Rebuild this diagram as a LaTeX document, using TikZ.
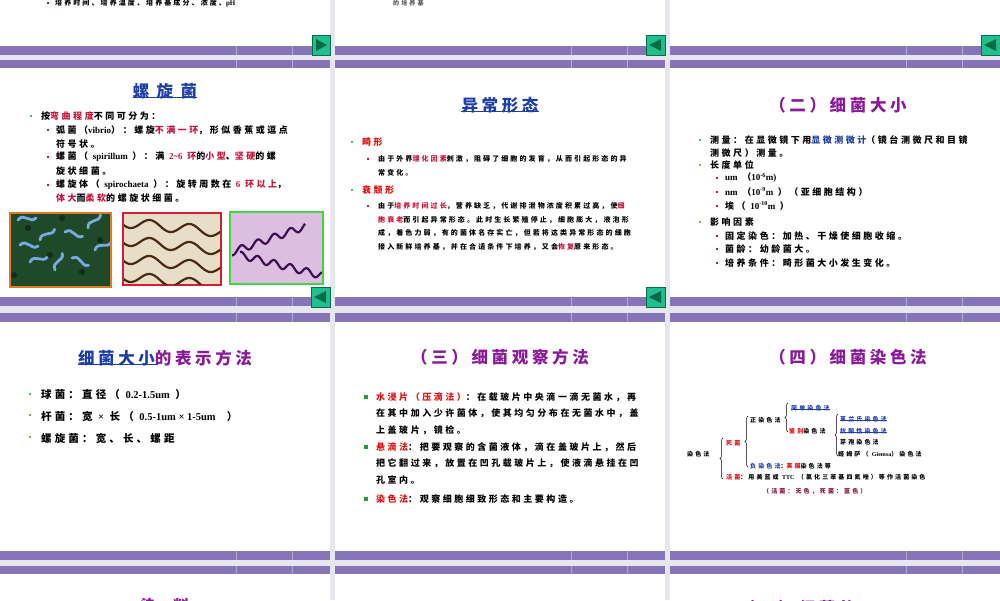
\documentclass[tikz,border=0pt]{standalone}
\usepackage{fontspec}
\setmainfont{Noto Sans CJK SC}
\newfontfamily\lat{Liberation Serif}
\usetikzlibrary{decorations.pathreplacing}
\definecolor{barc}{HTML}{8574B8}
\definecolor{barl}{HTML}{B3A8D6}
\definecolor{gapc}{HTML}{E7E5ED}
\definecolor{tblue}{HTML}{1F3FA8}
\definecolor{tpurp}{HTML}{8B1A9B}
\definecolor{bred}{HTML}{C8143C}
\definecolor{tred}{HTML}{E01010}
\definecolor{gbul}{HTML}{2E9B2E}
\definecolor{navc}{HTML}{1FBF8F}
\definecolor{navd}{HTML}{0B6B45}
\definecolor{maroon2}{HTML}{8A1040}
\definecolor{p1frame}{HTML}{E07A20}
\definecolor{p1bg}{HTML}{1E4A2A}
\definecolor{p1rod}{HTML}{78AAE1}
\definecolor{p1dot}{HTML}{0F2D19}
\definecolor{p2frame}{HTML}{D22030}
\definecolor{p2bg}{HTML}{E8DEC8}
\definecolor{p2rod}{HTML}{482A10}
\definecolor{p3frame}{HTML}{46D246}
\definecolor{p3bg}{HTML}{DCBEE1}
\definecolor{p3rod}{HTML}{3C1050}
\newcommand\R[1]{\textcolor{bred}{#1}}
\newcommand\B[1]{\textcolor{tblue}{#1}}
\tikzset{
 body/.style={anchor=west,inner sep=0pt,font=\bfseries\fontsize{9}{10}\selectfont\addfontfeatures{LetterSpace=28}},
 small/.style={anchor=west,inner sep=0pt,font=\bfseries\fontsize{7}{8}\selectfont\addfontfeatures{LetterSpace=30}},
 tree/.style={anchor=west,inner sep=0pt,font=\bfseries\fontsize{6}{7}\selectfont\addfontfeatures{LetterSpace=35}},
 big/.style={anchor=west,inner sep=0pt,font=\bfseries\fontsize{10.5}{12}\selectfont\addfontfeatures{LetterSpace=30}},
 title/.style={inner sep=0pt,font=\bfseries\fontsize{16.5}{18}\selectfont\addfontfeatures{LetterSpace=22}},
 gb/.style={fill=gbul,circle,inner sep=0pt,minimum size=2.2pt},
 rb/.style={fill=bred,inner sep=0pt,minimum size=2.4pt},
 gsq/.style={fill=gbul,inner sep=0pt,minimum size=3.2pt},
 brc/.style={decorate,decoration={brace,amplitude=3pt},line width=0.5pt},
}
\newcommand\bars[3]{% x, y top, y bottom
 \fill[barc] (#1,#2) rectangle ++(330,#3-#2);
 \draw[barl,line width=0.7pt] (#1+236,#2) -- (#1+236,#3) (#1+292,#2) -- (#1+292,#3);}
\newcommand\navR[2]{\fill[navc,draw=navd,line width=0.4pt] (#1,#2) rectangle ++(18,20);
 \fill[navd] (#1+4,#2+4) -- (#1+15,#2+10) -- (#1+4,#2+16) -- cycle;}
\newcommand\navL[2]{\fill[navc,draw=navd,line width=0.4pt] (#1,#2) rectangle ++(19,20);
 \fill[navd] (#1+15,#2+4) -- (#1+3,#2+10) -- (#1+15,#2+16) -- cycle;}
\begin{document}
\begin{tikzpicture}[x=1pt,y=-1pt]
\useasboundingbox (0,0) rectangle (1000,600);
\clip (0,0) rectangle (1000,600);
\fill[gapc] (0,0) rectangle (1000,600);
\foreach \c in {0,335,670}{
 \fill[white] (\c,0) rectangle ++(330,46);
 \fill[white] (\c,68) rectangle ++(330,229);
 \fill[white] (\c,322) rectangle ++(330,229);
 \fill[white] (\c,574) rectangle ++(330,30);
 \bars{\c}{46}{55}\bars{\c}{60}{68}\bars{\c}{297}{306}\bars{\c}{313}{322}\bars{\c}{551}{560}\bars{\c}{566}{574}
}
% nav buttons
\navR{312}{35}\navL{646}{35}\navL{981}{35}
\navL{311}{287}\navL{646}{287}
% row 1 partial
\node[rb] (r1b) at (48,3) {};
\node[small] (r1t) at (55,3) {培养时间、培养温度、培养基成分、浓度、{\lat pH}};
\node[tree,gray!70!black] (r1m) at (393,3) {的培养基};
% ---------- 螺旋菌
\node[title,tblue] (t1) at (165,91) {螺 旋 菌};
\draw[tblue,line width=0.5pt] ([yshift=2pt]t1.south west) -- ([yshift=2pt]t1.south east);
\node[gb] (a0) at (31,116) {};
\node[body] (a0t) at (41,116) {按\R{弯曲程度}不同可分为：};
\node[rb] (a1) at (48,130) {};
\node[body] (a1t) at (56,130) {弧菌（{\lat vibrio}）：螺旋\R{不满一环}，形似香蕉或逗点};
\node[body] (a1u) at (56,144) {符号状。};
\node[rb] (a2) at (48,157) {};
\node[body] (a2t) at (56,157) {螺菌（ {\lat spirillum} ）：满 \R{\lat 2\textasciitilde6} \R{环}的\R{小型}、\R{坚硬}的螺};
\node[body] (a2u) at (56,171) {旋状细菌。};
\node[rb] (a3) at (48,185) {};
\node[body] (a3t) at (56,185) {螺旋体（ {\lat spirochaeta} ）：旋转周数在 \R{\lat 6} \R{环以上}，};
\node[body] (a3u) at (56,198) {\R{体大}而\R{柔软}的螺旋状细菌。};
% pictures
\draw[draw=p1frame,line width=1.6pt,fill=p1bg] (10,213) rectangle (111,287);
\begin{scope}
\clip (11,214) rectangle (110,286);
\foreach \px/\py/\r in {18/220/0,40/240/30,65/232/-20,88/228/40,30/262/10,72/258/-30,95/250/20,55/270/60,20/245/-10}
  \draw[p1rod,line width=2.8pt,line cap=round,rotate around={\r:(\px,\py)}] (\px,\py) .. controls (\px+6,\py-8) and (\px+12,\py+4) .. (\px+18,\py-2);
\foreach \px/\py in {28/228,50/255,82/272,100/240,14/275,62/218}
  \fill[p1dot] (\px,\py) circle (3);
\end{scope}
\draw[draw=p2frame,line width=1.6pt,fill=p2bg] (123,213) rectangle (221,285);
\begin{scope}
\clip (124,214) rectangle (220,284);
\foreach \oy in {222,240,258,276}
  \draw[p2rod,line width=2.2pt,domain=115:230,samples=60] plot (\x,{\oy+5*sin(\x*9)+0.1*(\x-120)});
\end{scope}
\draw[draw=p3frame,line width=1.6pt,fill=p3bg] (230,212) rectangle (323,284);
\begin{scope}
\clip (231,213) rectangle (322,283);
\draw[p3rod,line width=2.2pt,domain=232:305,samples=80] plot (\x,{252-0.35*(\x-232)+3.5*sin(\x*22)});
\draw[p3rod,line width=2.2pt,domain=240:322,samples=80] plot (\x,{255+0.25*(\x-240)+3.5*sin(\x*22)});
\end{scope}
% ---------- 异常形态
\node[title,tblue] (t2) at (500,105) {异常形态};
\draw[tblue,line width=0.5pt] ([yshift=2pt]t2.south west) -- ([yshift=2pt]t2.south east);
\node[gb] (b0) at (352,142) {};
\node[body,tred] (b0t) at (362,142) {畸形};
\node[rb,minimum size=2pt] (b1) at (368,159) {};
\node[small] (b1t) at (378,159) {由于外界\R{理化因素}刺激，阻碍了细胞的发育，从而引起形态的异};
\node[small] (b1u) at (378,173) {常变化。};
\node[gb] (b2) at (352,190) {};
\node[body,tred] (b2t) at (362,190) {衰颓形};
\node[rb,minimum size=2pt] (b3) at (368,206) {};
\node[small] (b3t) at (378,206) {由于\R{培养时间过长}，营养缺乏，代谢排泄物浓度积累过高，使\R{细}};
\node[small] (b3u) at (378,220) {\R{胞衰老}而引起异常形态。此时生长繁殖停止，细胞膨大，液泡形};
\node[small] (b3v) at (378,233) {成，着色力弱，有的菌体名存实亡，但若将这类异常形态的细胞};
\node[small] (b3w) at (378,247) {接入新鲜培养基，并在合适条件下培养，又会\R{恢复}原来形态。};
% ---------- (二)细菌大小
\node[title,tpurp] (t3) at (838,105) {（二）细菌大小};
\node[gb] (c0) at (700,140) {};
\node[body] (c0t) at (710,140) {测量：在显微镜下用\B{显微测微计}（镜台测微尺和目镜};
\node[body] (c0u) at (710,153) {测微尺）测量。};
\node[gb] (c1) at (700,165) {};
\node[body] (c1t) at (710,165) {长度单位};
\node[rb] (c2) at (717,178) {};
\node[body] (c2t) at (725,178) {{\lat um} （{\lat 10\textsuperscript{-6}m)}};
\node[rb] (c3) at (717,192) {};
\node[body] (c3t) at (725,192) {{\lat nm} （{\lat 10\textsuperscript{-9}m} ）（亚细胞结构）};
\node[rb] (c4) at (717,206) {};
\node[body] (c4t) at (725,206) {埃（ {\lat 10\textsuperscript{-10}m} ）};
\node[gb] (c5) at (700,222) {};
\node[body] (c5t) at (710,222) {影响因素};
\node[rb] (c6) at (717,236) {};
\node[body] (c6t) at (725,236) {固定染色：加热、干燥使细胞收缩。};
\node[rb] (c7) at (717,249) {};
\node[body] (c7t) at (725,249) {菌龄：幼龄菌大。};
\node[rb] (c8) at (717,263) {};
\node[body] (c8t) at (725,263) {培养条件：畸形菌大小发生变化。};
% ---------- 细菌大小的表示方法
\node[title] (t4) at (165,358) {\B{细菌大小}\textcolor{tpurp}{的表示方法}};
\draw[tblue,line width=0.5pt] ([yshift=2pt]t4.south west) -- ++(80,0);
\node[gb] (d0) at (30,394) {};
\node[big] (d0t) at (41,395) {球菌：直径（ {\lat 0.2-1.5um} ）};
\node[gb] (d1) at (30,415) {};
\node[big] (d1t) at (41,416) {杆菌：宽 {\lat ×} 长（ {\lat 0.5-1um × 1-5um} \ ）};
\node[gb] (d2) at (30,437) {};
\node[big] (d2t) at (41,438) {螺旋菌：宽、长、螺距};
% ---------- (三)细菌观察方法
\node[title,tpurp] (t5) at (500,357) {（三）细菌观察方法};
\node[gsq] (e0) at (366,397) {};
\node[body] (e0t) at (376,397) {\textcolor{tred}{水浸片（压滴法）}：在载玻片中央滴一滴无菌水，再};
\node[body] (e0u) at (376,413) {在其中加入少许菌体，使其均匀分布在无菌水中，盖};
\node[body] (e0v) at (376,430) {上盖玻片，镜检。};
\node[gsq] (e1) at (366,447) {};
\node[body] (e1t) at (376,447) {\textcolor{tred}{悬滴法}：把要观察的含菌液体，滴在盖玻片上，然后};
\node[body] (e1u) at (376,463) {把它翻过来，放置在凹孔载玻片上，使液滴悬挂在凹};
\node[body] (e1v) at (376,480) {孔室内。};
\node[gsq] (e2) at (366,499) {};
\node[body] (e2t) at (376,499) {\textcolor{tred}{染色法}：观察细胞细致形态和主要构造。};
% ---------- (四)细菌染色法
\node[title,tpurp] (t6) at (848,357) {（四）细菌染色法};
\node[tree] (f0) at (687,454) {染色法};
\node[tree,tred] (f1) at (726,443) {死菌};
\node[tree] (f2) at (750,420) {正染色法};
\node[tree,tblue] (f3) at (791,408) {简单染色法};
\node[tree] (f4) at (789,431) {\textcolor{tred}{鉴别}染色法};
\node[tree,tblue] (f5) at (840,419) {革兰氏染色法};
\node[tree,tblue] (f6) at (840,431) {抗酸性染色法};
\node[tree] (f7) at (840,442) {芽孢染色法};
\node[tree] (f8) at (838,454) {姬姆萨（ {\lat Giemsa}）染色法};
\node[tree] (f9) at (750,466) {\B{负染色法}：\textcolor{tred}{荚膜}染色法等};
\node[tree] (f10) at (726,477) {\textcolor{tred}{活菌}：用美蓝或 {\lat TTC} （氯化三苯基四氮唑）等作活菌染色};
\node[tree,maroon2] (f11) at (763,491) {（活菌：无色，死菌：蓝色）};
\draw[tblue,line width=0.3pt] ([yshift=1.5pt]f3.south west) -- ([yshift=1.5pt]f3.south east);
\draw[tblue,line width=0.3pt] ([yshift=1.5pt]f5.south west) -- ([yshift=1.5pt]f5.south east);
\draw[tblue,line width=0.3pt] ([yshift=1.5pt]f6.south west) -- ([yshift=1.5pt]f6.south east);
\draw[brc] (723,479) -- (723,438);
\draw[brc] (748,467) -- (748,416);
\draw[brc] (788,432) -- (788,403);
\draw[brc] (838,456) -- (838,414);
% ---------- row 4 partial titles
\node[title,tpurp] (t7) at (165,606) {染\quad 料};
\node[title,tpurp] (t8) at (838,608) {（五）细菌的 {\lat Gell Mellu}};
\end{tikzpicture}
\end{document}
